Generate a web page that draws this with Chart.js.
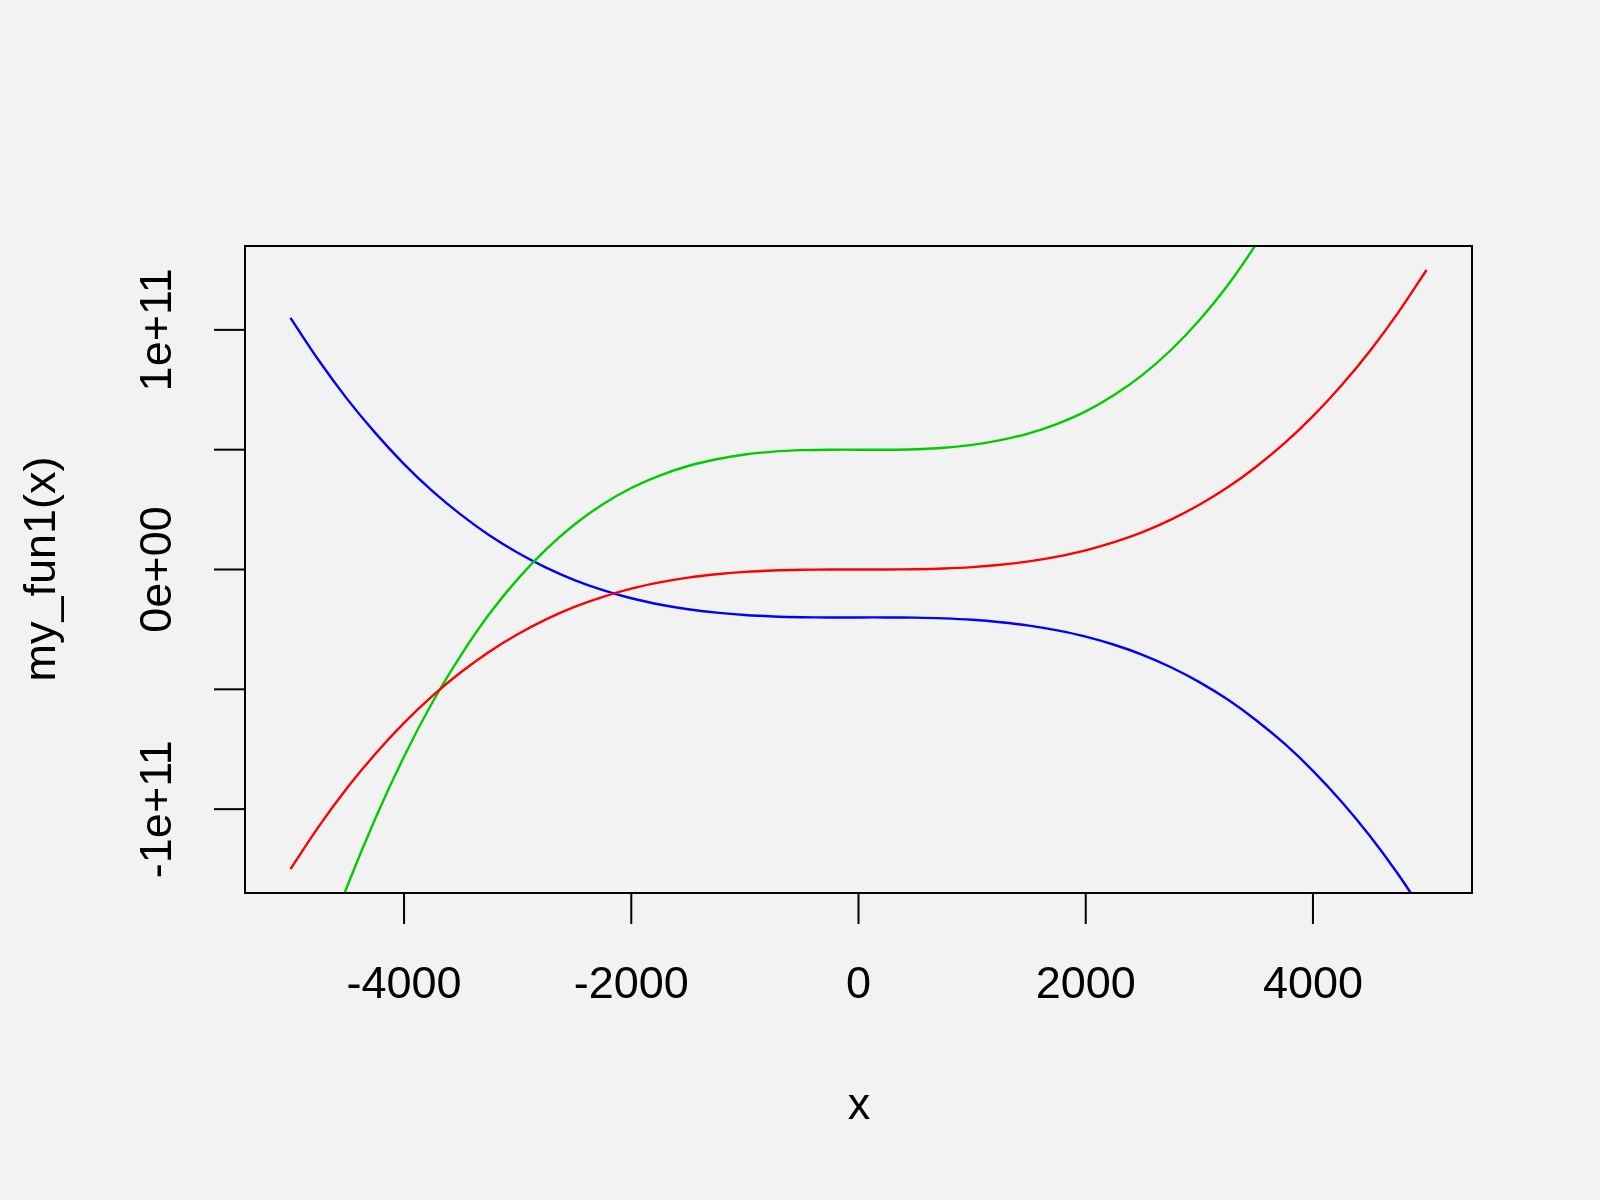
<!DOCTYPE html>
<html><head><script src="https://cdn.jsdelivr.net/npm/chart.js@4"></script>
<style>body{margin:0;background:#f2f2f2}</style></head>
<body><canvas id="c" width="1600" height="1200"></canvas>
<script>
// values in units of 1e9
const xs=[-5000,-4750,-4500,-4250,-4000,-3750,-3500,-3250,-3000,-2750,-2500,-2250,-2000,-1750,-1500,-1250,-1000,-750,-500,-250,0,250,500,750,1000,1250,1500,1750,2000,2250,2500,2750,3000,3250,3500,3750,4000,4250,4500,4750,5000];
const red=[-125,-107.2,-91.1,-76.8,-64,-52.7,-42.9,-34.3,-27,-20.8,-15.6,-11.4,-8,-5.4,-3.4,-2,-1,-0.4,-0.1,0,0,0,0.1,0.4,1,2,3.4,5.4,8,11.4,15.6,20.8,27,34.3,42.9,52.7,64,76.8,91.1,107.2,125];
const green=[-200,-164.4,-132.2,-103.6,-78,-55.4,-35.8,-18.6,-4,8.4,18.8,27.2,34,39.2,43.2,46,48,49.2,49.8,50,50,50,50.2,50.8,52,54,56.8,60.8,66,72.8,81.2,91.6,104,118.6,135.8,155.4,178,203.6,232.2,264.4,300];
const blue=[105,87.2,71.1,56.8,44,32.7,22.9,14.3,7,0.8,-4.4,-8.6,-12,-14.6,-16.6,-18,-19,-19.6,-19.9,-20,-20,-20,-20.1,-20.4,-21,-22,-23.4,-25.4,-28,-31.4,-35.6,-40.8,-47,-54.3,-62.9,-72.7,-84,-96.8,-111.1,-127.2,-145];
const xTicks=[-4000,-2000,0,2000,4000];
const yTicks=[-100,-50,0,50,100];
const yLabels={"-100":"-1e+11","0":"0e+00","100":"1e+11"};
const mk=(d,c)=>({data:xs.map((x,i)=>({x,y:d[i]})),borderColor:c,borderWidth:2.4,pointRadius:0,tension:0.3,fill:false});
const F='"Liberation Sans", Arial, sans-serif';
const axes={id:'axes',afterDraw(ch){
 const g=ch.ctx,a=ch.chartArea,sx=ch.scales.x,sy=ch.scales.y;
 g.save();g.strokeStyle='#000';g.lineWidth=2;g.strokeRect(a.left,a.top,a.right-a.left,a.bottom-a.top);
 g.fillStyle='#000';g.font='45px '+F;g.textAlign='center';g.textBaseline='middle';
 xTicks.forEach(t=>{const p=sx.getPixelForValue(t);g.beginPath();g.moveTo(p,a.bottom);g.lineTo(p,a.bottom+31);g.stroke();g.fillText(String(t),p,986);});
 yTicks.forEach(t=>{const p=sy.getPixelForValue(t);g.beginPath();g.moveTo(a.left,p);g.lineTo(a.left-31,p);g.stroke();
  if(yLabels[t]){g.save();g.translate(159,p);g.rotate(-Math.PI/2);g.fillText(yLabels[t],0,0);g.restore();}});
 g.fillText('x',859,1107);
 g.save();g.translate(43,569);g.rotate(-Math.PI/2);g.fillText('my_fun1(x)',0,0);g.restore();
 g.restore();}};
new Chart(document.getElementById('c'),{type:'line',data:{datasets:[mk(red,'#ff0000'),mk(green,'#00cd00'),mk(blue,'#0000ff')]},
options:{responsive:false,animation:false,layout:{padding:{left:245,right:128,top:246,bottom:307}},
plugins:{legend:{display:false},tooltip:{enabled:false}},
scales:{x:{type:'linear',min:-5400,max:5400,display:false},y:{min:-135,max:135,display:false}}},plugins:[axes]});
</script></body></html>
